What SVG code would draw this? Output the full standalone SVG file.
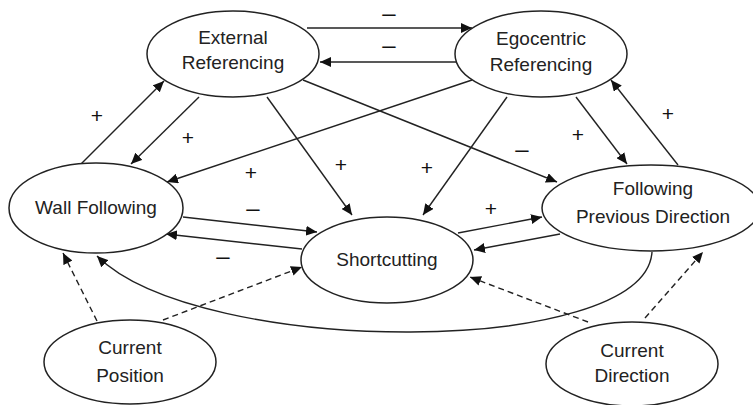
<svg xmlns="http://www.w3.org/2000/svg" width="753" height="405" viewBox="0 0 753 405">
<style>
.node ellipse{fill:#fff;stroke:#222;stroke-width:1.5}
.node text{font-family:"Liberation Sans",Arial,sans-serif;font-size:19px;fill:#222;text-anchor:middle}
.edge{fill:none;stroke:#222;stroke-width:1.4;marker-end:url(#ah)}
.dash{stroke-dasharray:6,4}
.lbl{font-family:"Liberation Sans",Arial,sans-serif;font-size:21px;fill:#111;text-anchor:middle}
.mn{font-size:24px}
</style>
<defs>
<marker id="ah" markerUnits="userSpaceOnUse" markerWidth="12" markerHeight="10" refX="11" refY="5" orient="auto">
<path d="M0,0 L11,5 L0,10 z" fill="#111"/>
</marker>
</defs>
<rect width="753" height="405" fill="#fff"/>
<g id="connectors">
<line class="edge" x1="307" y1="28" x2="472" y2="28"/>
<line class="edge" x1="456" y1="62" x2="320" y2="62"/>
<line class="edge" x1="80" y1="165" x2="164" y2="81"/>
<line class="edge" x1="199" y1="97" x2="131" y2="164"/>
<line class="edge" x1="472" y1="80" x2="167" y2="182"/>
<line class="edge" x1="267" y1="97" x2="352" y2="215"/>
<line class="edge" x1="303" y1="80" x2="557" y2="182"/>
<line class="edge" x1="507" y1="97" x2="423" y2="215"/>
<line class="edge" x1="576" y1="97" x2="627" y2="164"/>
<line class="edge" x1="678" y1="165" x2="611" y2="80"/>
<line class="edge" x1="183" y1="217" x2="317" y2="232"/>
<line class="edge" x1="302" y1="249" x2="166" y2="234"/>
<line class="edge" x1="458" y1="233" x2="542" y2="217"/>
<line class="edge" x1="560" y1="234" x2="474" y2="250"/>
<path class="edge" d="M652,252 C645,358 200,358 97,256"/>
<line class="edge dash" x1="97" y1="321" x2="63" y2="253"/>
<line class="edge dash" x1="163" y1="320" x2="302" y2="267"/>
<line class="edge dash" x1="588" y1="322" x2="470" y2="277"/>
<line class="edge dash" x1="645" y1="318" x2="703" y2="252"/>
<text class="lbl mn" x="389" y="21">–</text>
<text class="lbl mn" x="389" y="53">–</text>
<text class="lbl" x="97" y="123">+</text>
<text class="lbl" x="188" y="145">+</text>
<text class="lbl" x="251" y="180">+</text>
<text class="lbl" x="341" y="172">+</text>
<text class="lbl mn" x="522" y="157">–</text>
<text class="lbl" x="427" y="175">+</text>
<text class="lbl" x="578" y="142">+</text>
<text class="lbl" x="668" y="121">+</text>
<text class="lbl mn" x="253" y="216">–</text>
<text class="lbl mn" x="223" y="264">–</text>
<text class="lbl" x="491" y="216">+</text>
</g>
<g id="external" class="node">
<ellipse cx="233" cy="54" rx="86" ry="43"/>
<text x="233" y="44">External</text>
<text x="233" y="69">Referencing</text>
</g>
<g id="egocentric" class="node">
<ellipse cx="541" cy="54" rx="86" ry="43"/>
<text x="541" y="45">Egocentric</text>
<text x="541" y="71">Referencing</text>
</g>
<g id="wall" class="node">
<ellipse cx="96" cy="208" rx="87" ry="45"/>
<text x="96" y="214">Wall Following</text>
</g>
<g id="shortcut" class="node">
<ellipse cx="387" cy="260" rx="86" ry="43"/>
<text x="387" y="266">Shortcutting</text>
</g>
<g id="fpd" class="node">
<ellipse cx="651" cy="208" rx="109" ry="43"/>
<text x="653" y="195">Following</text>
<text x="653" y="223">Previous Direction</text>
</g>
<g id="curpos" class="node">
<ellipse cx="130" cy="362" rx="86" ry="42"/>
<text x="130" y="354">Current</text>
<text x="130" y="382">Position</text>
</g>
<g id="curdir" class="node">
<ellipse cx="632" cy="364" rx="86" ry="42"/>
<text x="632" y="357">Current</text>
<text x="632" y="382">Direction</text>
</g>
</svg>
